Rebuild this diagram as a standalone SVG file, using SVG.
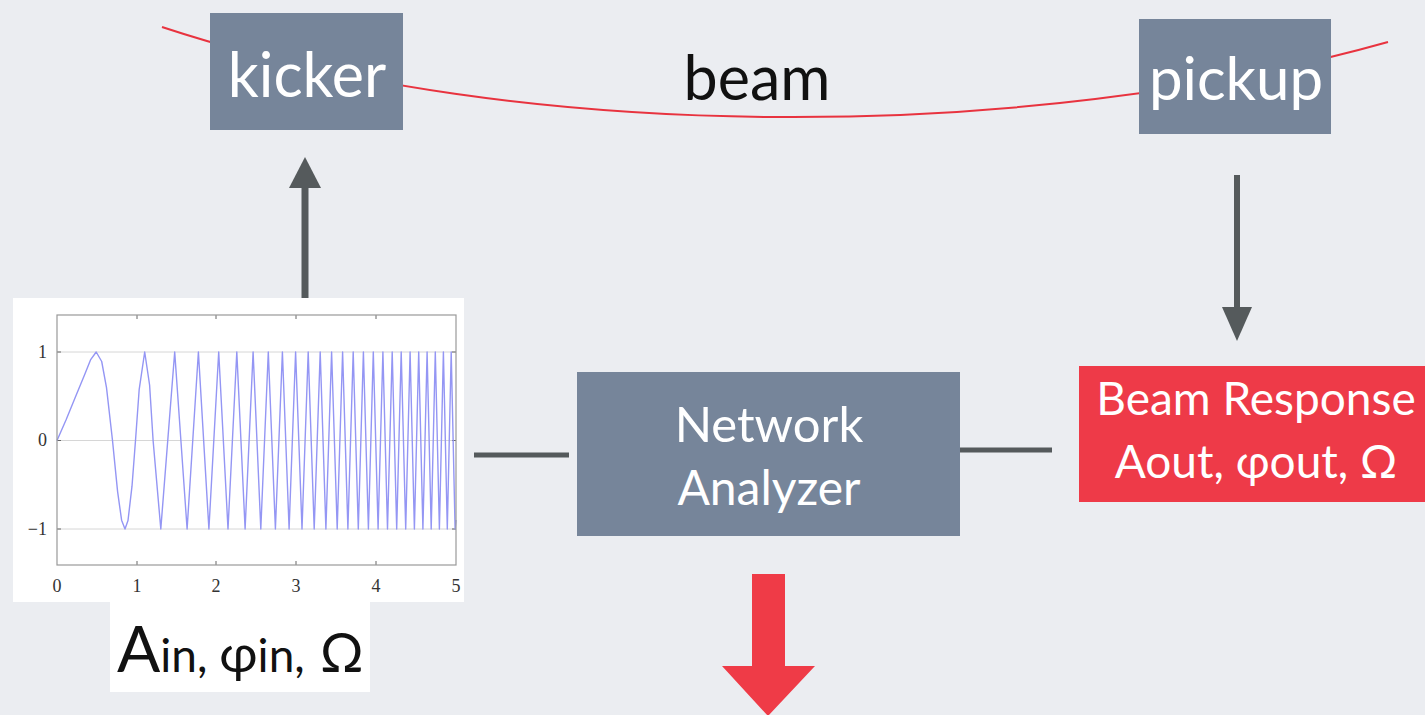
<svg xmlns="http://www.w3.org/2000/svg" width="1425" height="715" viewBox="0 0 1425 715">
<style>
.box{fill:#76859a}
.wt{fill:#ffffff;font-family:Lato,"Open Sans",sans-serif}
.bt{fill:#111111;font-family:Lato,"Open Sans",sans-serif}
.ax{fill:#333333;font-family:"Liberation Serif",serif;font-size:18px}
.conn{stroke:#555a5c;fill:none}
.head{fill:#555a5c}
</style>
<rect width="1425" height="715" fill="#ebedf1"/>
<g id="beam-line">
<path d="M162,27 C522,146 1028,143 1388,42" fill="none" stroke="#e8333f" stroke-width="2"/>
</g>
<g id="kicker">
<rect class="box" x="210" y="13" width="193" height="117"/>
<text class="wt" x="307" y="97" font-size="61" text-anchor="middle">kicker</text>
</g>
<g id="pickup">
<rect class="box" x="1139" y="19" width="192" height="115"/>
<text class="wt" x="1236" y="100" font-size="60" text-anchor="middle">pickup</text>
</g>
<g id="beam-label">
<text class="bt" x="757" y="100" font-size="61" text-anchor="middle">beam</text>
</g>
<g id="connectors">
<line class="conn" x1="305" y1="300" x2="305" y2="184" stroke-width="7"/>
<polygon class="head" points="289,188 321,188 305,157"/>
<line class="conn" x1="1237" y1="175" x2="1237" y2="310" stroke-width="6"/>
<polygon class="head" points="1222,307 1252,307 1237,341"/>
<line class="conn" x1="474" y1="455" x2="569" y2="455" stroke-width="5"/>
<line class="conn" x1="960" y1="450" x2="1052" y2="450" stroke-width="5"/>
</g>
<g id="chirp-plot">
<rect x="13" y="298" width="451" height="304" fill="#ffffff"/>
<g stroke="#d6d6d6" stroke-width="1">
<line x1="57" y1="352" x2="456" y2="352"/>
<line x1="57" y1="440.5" x2="456" y2="440.5"/>
<line x1="57" y1="529" x2="456" y2="529"/>
</g>
<g stroke="#666" stroke-width="1">
<line x1="137" y1="315" x2="137" y2="319"/><line x1="216" y1="315" x2="216" y2="319"/><line x1="296" y1="315" x2="296" y2="319"/><line x1="376" y1="315" x2="376" y2="319"/>
<line x1="137" y1="565" x2="137" y2="561"/><line x1="216" y1="565" x2="216" y2="561"/><line x1="296" y1="565" x2="296" y2="561"/><line x1="376" y1="565" x2="376" y2="561"/>
<line x1="57" y1="352" x2="61" y2="352"/><line x1="57" y1="440.5" x2="61" y2="440.5"/><line x1="57" y1="529" x2="61" y2="529"/>
<line x1="456" y1="352" x2="452" y2="352"/><line x1="456" y1="440.5" x2="452" y2="440.5"/><line x1="456" y1="529" x2="452" y2="529"/>
</g>
<polyline fill="none" stroke="#9496f4" stroke-width="1.4" stroke-linejoin="round" points="57,440.5 66,420 75,398 84.9,374 90.5,359.9 96.2,352 101.7,361.5 106.5,387.6 112.5,440.5 117.6,491.6 121.6,520.2 125,529 128,520.5 132,486.2 135.5,440.5 139.2,389.3 144.7,352 149.6,385 153.1,440.5 160.8,529 174.7,352 187.1,529 198.4,352 208.9,529 218.7,352 228,529 236.8,352 245.1,529 253.1,352 260.8,529 268.3,352 275.4,529 282.4,352 289.1,529 295.6,352 302,529 308.2,352 314.2,529 320.2,352 325.9,529 331.6,352 337.2,529 342.6,352 347.9,529 353.2,352 358.3,529 363.4,352 368.4,529 373.3,352 378.1,529 382.9,352 387.5,529 392.2,352 396.7,529 401.2,352 405.7,529 410.1,352 414.4,529 418.7,352 422.9,529 427.1,352 431.2,529 435.3,352 439.4,529 443.4,352 447.3,529 451.2,352 455.1,529 456,520"/>
<rect x="57" y="315" width="399" height="250" fill="none" stroke="#999" stroke-width="1.2"/>
<text class="ax" x="47" y="358" text-anchor="end">1</text>
<text class="ax" x="47" y="446" text-anchor="end">0</text>
<text class="ax" x="47" y="535" text-anchor="end">−1</text>
<text class="ax" x="57" y="592" text-anchor="middle">0</text>
<text class="ax" x="137" y="592" text-anchor="middle">1</text>
<text class="ax" x="216" y="592" text-anchor="middle">2</text>
<text class="ax" x="296" y="592" text-anchor="middle">3</text>
<text class="ax" x="376" y="592" text-anchor="middle">4</text>
<text class="ax" x="456" y="592" text-anchor="middle">5</text>
</g>
<g id="input-label">
<rect x="110" y="602" width="260" height="90" fill="#ffffff"/>
<text class="bt" x="117" y="672"><tspan font-size="64">A</tspan><tspan font-size="46">in, </tspan><tspan font-size="52">φ</tspan><tspan font-size="46">in,</tspan></text>
<text class="bt" x="320" y="672" font-size="54">Ω</text>
</g>
<g id="network-analyzer">
<rect class="box" x="577" y="372" width="383" height="164"/>
<text class="wt" x="769" y="442" font-size="49" text-anchor="middle">Network</text>
<text class="wt" x="769" y="505" font-size="48" text-anchor="middle">Analyzer</text>
</g>
<g id="beam-response">
<rect x="1079" y="366" width="346" height="136" fill="#ee3a48"/>
<text class="wt" x="1256" y="415" font-size="46" text-anchor="middle">Beam Response</text>
<text class="wt" x="1256" y="478" font-size="46" text-anchor="middle">Aout, φout, Ω</text>
</g>
<g id="output-arrow">
<polygon fill="#ef3b47" points="752,574 785,574 785,666 815,666 768,716 722,666 752,666"/>
</g>
</svg>
